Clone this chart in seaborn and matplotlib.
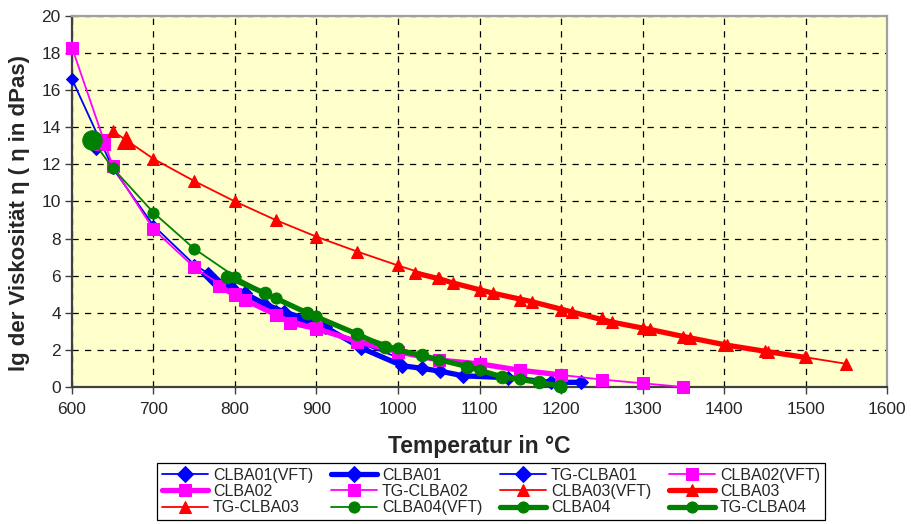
import matplotlib
matplotlib.use("Agg")
import matplotlib.pyplot as plt
import seaborn as sns
import pandas as pd

# ---- data ----
t_clba01_vft = [600, 650, 700, 750, 800, 850, 900, 950, 1000]
v_clba01_vft = [16.6, 11.8, 8.7, 6.6, 5.2, 4.1, 3.2, 2.4, 1.6]
t_clba01 = [767, 775, 795, 812, 835, 860, 885, 910, 955, 1005, 1030, 1052, 1080, 1135, 1188, 1225]
v_clba01 = [6.1, 5.7, 5.4, 5.05, 4.5, 4.05, 3.7, 3.25, 2.1, 1.15, 1.0, 0.85, 0.6, 0.5, 0.25, 0.25]
t_tg_clba01 = [630]
v_tg_clba01 = [12.9]

t_clba02_vft = [600, 650, 700, 750, 800, 850, 900, 950, 1000, 1050, 1100, 1150, 1200, 1250, 1300, 1350]
v_clba02_vft = [18.3, 11.9, 8.5, 6.45, 5.0, 3.9, 3.2, 2.45, 1.9, 1.45, 1.25, 0.9, 0.65, 0.4, 0.2, 0.0]
t_clba02 = [780, 800, 812, 850, 868, 900, 950, 1000, 1050, 1100, 1150, 1200]
v_clba02 = [5.45, 4.95, 4.7, 3.9, 3.45, 3.15, 2.45, 1.9, 1.45, 1.25, 0.9, 0.65]
t_tg_clba02 = [637]
v_tg_clba02 = [13.2]

t_clba03_vft = [650, 700, 750, 800, 850, 900, 950, 1000, 1050, 1100, 1150, 1200, 1250,
                1300, 1350, 1400, 1450, 1500, 1550]
v_clba03_vft = [13.8, 12.3, 11.1, 10.0, 9.0, 8.1, 7.3, 6.55, 5.85, 5.25, 4.7, 4.15, 3.7,
                3.2, 2.7, 2.25, 1.95, 1.6, 1.25]
t_clba03 = [1021, 1049, 1068, 1117, 1164, 1213, 1262, 1309, 1358, 1404, 1454, 1499]
v_clba03 = [6.15, 5.85, 5.6, 5.05, 4.6, 4.05, 3.5, 3.1, 2.65, 2.25, 1.9, 1.6]
t_tg_clba03 = [666]
v_tg_clba03 = [13.3]

t_clba04_vft = [625, 650, 700, 750, 800, 850, 900, 950, 1000, 1050, 1100, 1150, 1200]
v_clba04_vft = [13.3, 11.8, 9.4, 7.45, 5.95, 4.8, 3.8, 2.85, 2.1, 1.45, 0.92, 0.43, 0.0]
t_clba04 = [790, 837, 888, 950, 984, 1029, 1085, 1127, 1173, 1199]
v_clba04 = [5.95, 5.05, 4.0, 2.85, 2.15, 1.7, 1.1, 0.55, 0.25, 0.05]
t_tg_clba04 = [625]
v_tg_clba04 = [13.3]

x_ticks = [600, 700, 800, 900, 1000, 1100, 1200, 1300, 1400, 1500, 1600]
y_ticks = [0, 2, 4, 6, 8, 10, 12, 14, 16, 18, 20]

BLUE, MAG, RED, GREEN = "#0000FF", "#FF00FF", "#FF0000", "#008000"

series = [
    # label, T, v, color, marker, linewidth, markersize
    ("CLBA01(VFT)", t_clba01_vft, v_clba01_vft, BLUE, "D", 1.3, 6),
    ("CLBA01", t_clba01, v_clba01, BLUE, "D", 3.8, 7),
    ("TG-CLBA01", t_tg_clba01, v_tg_clba01, BLUE, "D", 1.3, 7),
    ("CLBA02(VFT)", t_clba02_vft, v_clba02_vft, MAG, "s", 1.3, 8),
    ("CLBA02", t_clba02, v_clba02, MAG, "s", 3.8, 9),
    ("TG-CLBA02", t_tg_clba02, v_tg_clba02, MAG, "s", 1.3, 12),
    ("CLBA03(VFT)", t_clba03_vft, v_clba03_vft, RED, "^", 1.3, 8),
    ("CLBA03", t_clba03, v_clba03, RED, "^", 3.8, 9),
    ("TG-CLBA03", t_tg_clba03, v_tg_clba03, RED, "^", 1.3, 13),
    ("CLBA04(VFT)", t_clba04_vft, v_clba04_vft, GREEN, "o", 1.3, 8),
    ("CLBA04", t_clba04, v_clba04, GREEN, "o", 3.8, 9),
    ("TG-CLBA04", t_tg_clba04, v_tg_clba04, GREEN, "o", 3.8, 14),
]

sns.set_style("white")
plt.rcParams["font.family"] = ["Liberation Sans", "DejaVu Sans"]

fig = plt.figure(figsize=(9.11, 5.24), dpi=100)
ax = fig.add_axes([0.079, 0.2615, 0.8947, 0.708])
ax.set_facecolor("#FFFFCC")

for label, t, v, col, mk, lw, ms in series:
    df = pd.DataFrame({"T": t, "v": v})
    sns.lineplot(data=df, x="T", y="v", ax=ax, color=col, marker=mk, linewidth=lw,
                 markersize=ms, markeredgecolor=col, markerfacecolor=col,
                 label=label, sort=False, estimator=None, clip_on=False, zorder=3)

ax.set_xlim(600, 1600)
ax.set_ylim(0, 20)
ax.set_xticks(x_ticks)
ax.set_yticks(y_ticks)
ax.tick_params(axis="both", labelsize=12.5, length=5, width=1, direction="out",
               color="#404040", left=True, bottom=True)
ax.tick_params(axis="y", pad=3)
ax.tick_params(axis="x", pad=6)
ax.grid(True, color="black", linestyle=(0, (5, 5)), linewidth=0.9)
ax.set_axisbelow(True)
for s in ["left", "bottom"]:
    ax.spines[s].set_color("#404040")
    ax.spines[s].set_linewidth(1.6)
for s in ["top", "right"]:
    ax.spines[s].set_color("#A0A0A0")
    ax.spines[s].set_linewidth(1.6)

ax.set_xlabel("Temperatur in °C", fontsize=16.5, fontweight="bold", labelpad=13)
ax.set_ylabel("lg der Viskosität η ( η in dPas)", fontsize=16, fontweight="bold")
ax.yaxis.set_label_coords(-0.052, 0.47)

handles, labels = ax.get_legend_handles_labels()
order = [0, 4, 8, 1, 5, 9, 2, 6, 10, 3, 7, 11]
leg = ax.legend([handles[i] for i in order], [labels[i] for i in order],
                loc="upper left", bbox_to_anchor=(0.1723, 0.0, 0.7333, 0.1164),
                bbox_transform=fig.transFigure, mode="expand", ncol=4, fontsize=11.5,
                frameon=True, fancybox=False, edgecolor="black", framealpha=1,
                handlelength=2.9, handletextpad=0.3, columnspacing=0.5,
                labelspacing=0.08, borderpad=0.3, borderaxespad=0)
leg.get_frame().set_linewidth(0.9)
for h in leg.legend_handles:
    h.set_markersize(8)

fig.savefig("out.png", dpi=100)
